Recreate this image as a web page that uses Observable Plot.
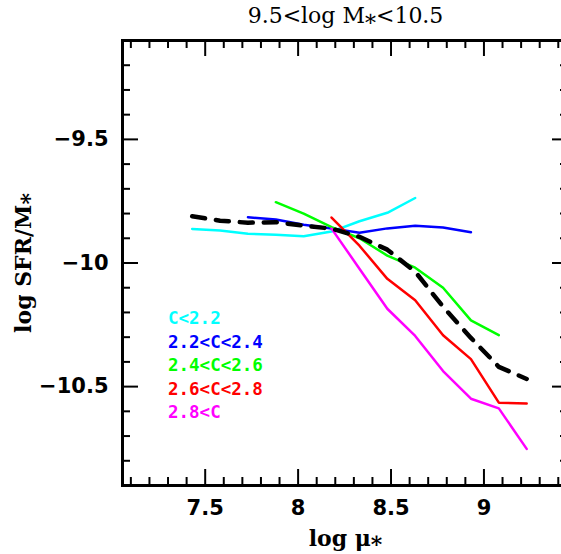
<!DOCTYPE html>
<html><head><meta charset="utf-8">
<script src="https://cdn.jsdelivr.net/npm/d3@7"></script>
<script src="https://cdn.jsdelivr.net/npm/@observablehq/plot@0.6"></script>
<style>
html,body{margin:0;padding:0;background:#fff;overflow:hidden;width:561px;height:554px}
#wrap{position:relative;width:561px;height:554px;overflow:hidden}
#chart svg{max-width:none !important}
#legend{position:absolute;left:168px;top:307px;font-family:"DejaVu Sans Mono",monospace;font-weight:bold;font-size:17.5px;line-height:23.6px}
</style></head><body><div id="wrap"><div id="chart"></div><div id="legend"></div></div>
<script>
const title = "9.5<log M\u204E<10.5";
const xLabel = "log \u03BC\u204E";
const yLabel = "log SFR/M\u204E";

const logMu = [7.43, 7.58, 7.73, 7.88, 8.03, 8.18, 8.33, 8.48, 8.63, 8.78, 8.93, 9.08, 9.23];
const cBin1 = [-9.862, -9.869, -9.882, -9.886, -9.892, -9.873, -9.831, -9.797, -9.737, null, null, null, null];
const cBin2 = [null, null, -9.815, -9.824, -9.845, -9.860, -9.878, -9.860, -9.849, -9.856, -9.876, null, null];
const cBin3 = [null, null, null, -9.754, -9.800, -9.855, -9.900, -9.970, -10.019, -10.100, -10.232, -10.292, null];
const cBin4 = [null, null, null, null, null, -9.816, -9.930, -10.064, -10.151, -10.292, -10.389, -10.565, -10.568];
const cBin5 = [null, null, null, null, null, -9.861, -10.023, -10.185, -10.295, -10.437, -10.549, -10.588, -10.752];
const allC  = [-9.811, -9.829, -9.837, -9.835, -9.849, -9.861, -9.894, -9.946, -10.035, -10.177, -10.303, -10.420, -10.469];

const binLabels = ["C<2.2", "2.2<C<2.4", "2.4<C<2.6", "2.6<C<2.8", "2.8<C"];
const binColors = ["#00ffff", "#0000ff", "#00ff00", "#ff0000", "#ff00ff"];

const xMajor = [7.5, 8, 8.5, 9];
const xMinor = [7.1,7.2,7.3,7.4,7.6,7.7,7.8,7.9,8.1,8.2,8.3,8.4,8.6,8.7,8.8,8.9,9.1,9.2,9.3,9.4];
const yMajor = [-9.5, -10, -10.5];
const yMinor = [-9.2,-9.3,-9.4,-9.6,-9.7,-9.8,-9.9,-10.1,-10.2,-10.3,-10.4,-10.6,-10.7,-10.8];

const series = [cBin1, cBin2, cBin3, cBin4, cBin5];
const rows = [];
series.forEach((vals, s) => vals.forEach((v, i) => { if (v != null) rows.push({x: logMu[i], y: v, s}); }));
const allRows = allC.map((v, i) => ({x: logMu[i], y: v}));

const W = 580, H = 554, mL = 122, mR = 12, mT = 40, mB = 69;
const fw = W - mL - mR, fh = H - mT - mB;
const maj = 16, mnr = 8;

const chart = Plot.plot({
  width: W, height: H,
  marginLeft: mL, marginRight: mR, marginTop: mT, marginBottom: mB,
  style: {background: "#fff", overflow: "visible", maxWidth: "none"},
  x: {domain: [7.055, 9.455], axis: null},
  y: {domain: [-10.9, -9.1], axis: null},
  marks: [
    Plot.axisX(xMajor, {anchor: "bottom", tickSize: 0, tickPadding: 15, label: null,
      tickFormat: d => String(d), fontSize: 21, fontWeight: "bold", fontFamily: "DejaVu Sans", fill: "#000"}),
    Plot.axisY(yMajor, {anchor: "left", tickSize: 0, tickPadding: 14, label: null,
      tickFormat: d => String(d).replace("-", "\u2212"), fontSize: 21, fontWeight: "bold", fontFamily: "DejaVu Sans", fill: "#000"}),
    Plot.ruleX(xMajor, {x: d => d, insetTop: fh - maj, stroke: "#000", strokeWidth: 2}),
    Plot.ruleX(xMinor, {x: d => d, insetTop: fh - mnr, stroke: "#000", strokeWidth: 2}),
    Plot.ruleX(xMajor, {x: d => d, insetBottom: fh - maj, stroke: "#000", strokeWidth: 2}),
    Plot.ruleX(xMinor, {x: d => d, insetBottom: fh - mnr, stroke: "#000", strokeWidth: 2}),
    Plot.ruleY(yMajor, {y: d => d, insetRight: fw - maj, stroke: "#000", strokeWidth: 2}),
    Plot.ruleY(yMinor, {y: d => d, insetRight: fw - mnr, stroke: "#000", strokeWidth: 2}),
    Plot.ruleY(yMajor, {y: d => d, insetLeft: fw - maj, stroke: "#000", strokeWidth: 2}),
    Plot.ruleY(yMinor, {y: d => d, insetLeft: fw - mnr, stroke: "#000", strokeWidth: 2}),
    Plot.frame({stroke: "#000", strokeWidth: 3}),
    Plot.line(rows, {x: "x", y: "y", z: "s", stroke: d => binColors[d.s], strokeWidth: 2.5, strokeLinejoin: "miter"}),
    Plot.line(allRows, {x: "x", y: "y", stroke: "#000", strokeWidth: 4.5, strokeDasharray: "13,11"}),
    Plot.text([title], {frameAnchor: "top", lineAnchor: "middle", dy: -25, fontSize: 22, fontFamily: "DejaVu Serif", fill: "#000"}),
    Plot.text([xLabel], {frameAnchor: "bottom", lineAnchor: "middle", textAnchor: "middle", dy: 53, fontSize: 22, fontWeight: "bold", fontFamily: "DejaVu Serif", fill: "#000"}),
    Plot.text([yLabel], {frameAnchor: "left", lineAnchor: "middle", textAnchor: "middle", dx: -99, rotate: -90, fontSize: 22, fontWeight: "bold", fontFamily: "DejaVu Serif", fill: "#000"})
  ]
});
document.getElementById("chart").appendChild(chart);

const leg = document.getElementById("legend");
binLabels.forEach((t, i) => {
  const d = document.createElement("div");
  d.textContent = t;
  d.style.color = binColors[i];
  leg.appendChild(d);
});
</script>
</body></html>
